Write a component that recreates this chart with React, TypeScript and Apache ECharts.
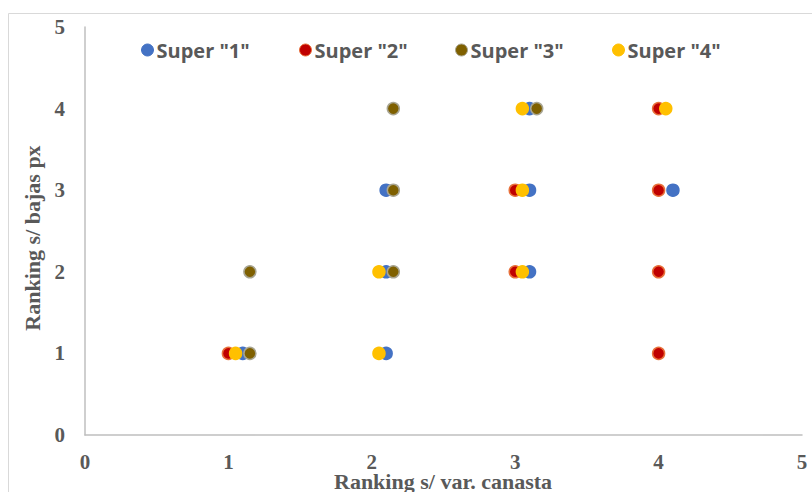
import React, { useEffect, useRef } from "react";
import * as echarts from "echarts";

// Ranking pairs [var. canasta, bajas px] per supermarket
const super1: number[][] = [
  [1.1, 1], [2.1, 1], [2.1, 2], [3.1, 2], [2.1, 3], [3.1, 3], [4.1, 3], [3.1, 4],
];
const super2: number[][] = [
  [1, 1], [4, 1], [3, 2], [4, 2], [3, 3], [4, 3], [4, 4],
];
const super3: number[][] = [
  [1.15, 1], [1.15, 2], [2.15, 2], [2.15, 3], [2.15, 4], [3.15, 4],
];
const super4: number[][] = [
  [1.05, 1], [2.05, 1], [2.05, 2], [3.05, 2], [3.05, 3], [3.05, 4], [4.05, 4],
];

const seriesNames = ['Super "1"', 'Super "2"', 'Super "3"', 'Super "4"'];
const seriesData = [super1, super2, super3, super4];
const fills = ["#4472C4", "#C00000", "#7F6000", "#FFC000"];
const rims = ["#4472C4", "#E8703A", "#A8A592", "#FFC000"];
const legendLefts = [136, 294, 450, 607];

const xTitle = "Ranking s/ var. canasta";
const yTitle = "Ranking s/ bajas px";

const labelColor = "#595959";
const serif = "'Liberation Serif', 'Times New Roman', serif";
const sans = "'Open Sans', 'Noto Sans', sans-serif";

const titleStyle = {
  fontFamily: serif,
  fontWeight: "bold" as const,
  fontSize: 22,
  lineHeight: 20,
  fill: labelColor,
  align: "center" as const,
  verticalAlign: "middle" as const,
};

export default function App() {
  const ref = useRef<HTMLDivElement>(null);

  useEffect(() => {
    if (!ref.current) return;
    const chart = echarts.init(ref.current, null, { renderer: "svg" });

    const legends = seriesNames.map((name, i) => ({
      data: [{ name, itemStyle: { color: fills[i], borderColor: rims[i], borderWidth: 1 } }],
      left: legendLefts[i],
      top: 35,
      icon: "circle",
      itemWidth: 12,
      itemHeight: 12,
      itemGap: 0,
      textStyle: {
        fontFamily: sans,
        fontWeight: "bold" as const,
        fontSize: 20,
        color: labelColor,
        padding: [0, 0, 0, -2],
      },
    }));

    chart.setOption({
      animation: false,
      backgroundColor: "#ffffff",
      graphic: [
        {
          type: "rect",
          shape: { x: 8.5, y: 13.5, width: 820, height: 500 },
          style: { fill: "none", stroke: "#D9D9D9", lineWidth: 1 },
          silent: true,
          z: -1,
        },
        {
          type: "text",
          x: 32,
          y: 238,
          rotation: Math.PI / 2,
          style: { ...titleStyle, text: yTitle },
          silent: true,
        },
        {
          type: "text",
          x: 443,
          y: 481,
          style: { ...titleStyle, text: xTitle },
          silent: true,
        },
      ],
      legend: legends,
      grid: {
        left: 85,
        right: 10,
        top: 27,
        height: 408,
        containLabel: false,
        outerBoundsMode: "none",
      },
      xAxis: {
        type: "value",
        min: 0,
        max: 5,
        interval: 1,
        axisLine: { show: true, lineStyle: { color: "#BFBFBF", width: 1.5 } },
        axisTick: { show: false },
        splitLine: { show: false },
        axisLabel: {
          fontFamily: serif,
          fontWeight: "bold",
          fontSize: 21,
          lineHeight: 16,
          color: labelColor,
          margin: 19,
        },
      },
      yAxis: {
        type: "value",
        min: 0,
        max: 5,
        interval: 1,
        axisLine: { show: true, lineStyle: { color: "#BFBFBF", width: 1.5 } },
        axisTick: { show: false },
        splitLine: { show: false },
        axisLabel: {
          fontFamily: serif,
          fontWeight: "bold",
          fontSize: 21,
          color: labelColor,
          margin: 20,
        },
      },
      series: seriesData.map((data, i) => ({
        name: seriesNames[i],
        type: "scatter",
        data,
        symbol: "circle",
        symbolSize: 12,
        itemStyle: { color: fills[i], borderColor: rims[i], borderWidth: 1.5, opacity: 1 },
        z: 2 + i,
      })),
    });

    return () => chart.dispose();
  }, []);

  return (
    <div
      ref={ref}
      style={{ position: "fixed", left: 0, top: 0, width: 812, height: 492, overflow: "hidden" }}
    />
  );
}
